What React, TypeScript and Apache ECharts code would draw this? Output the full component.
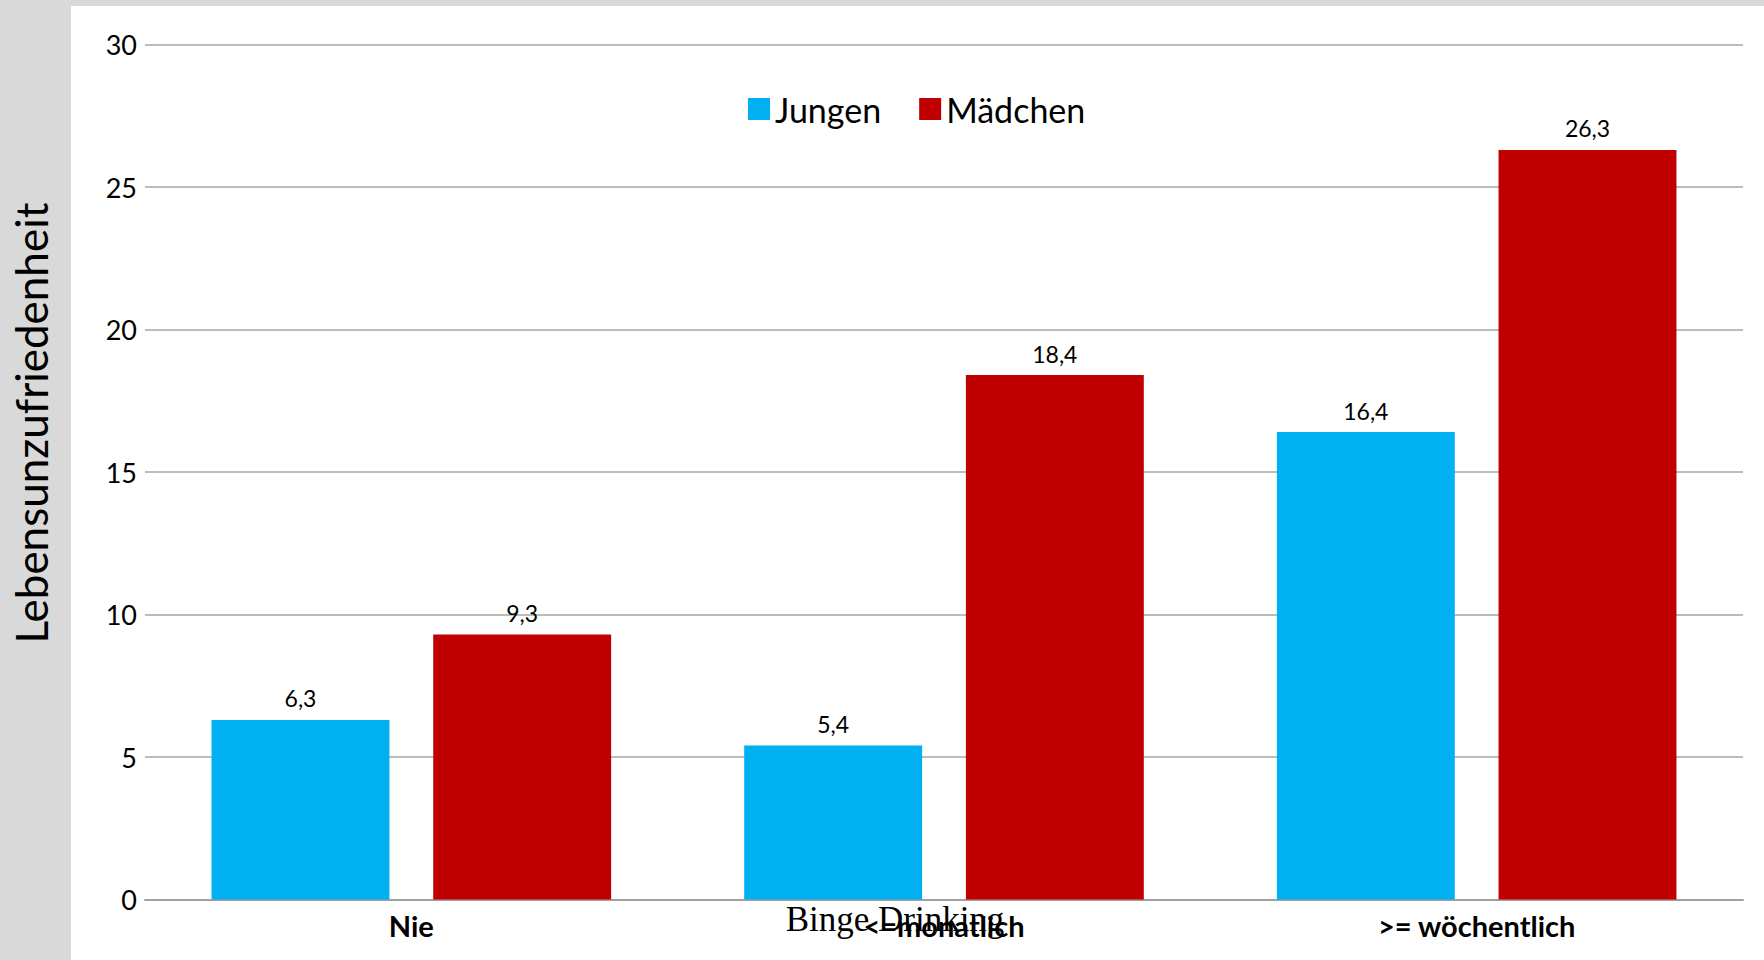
import React, { useEffect, useRef } from "react";
import * as echarts from "echarts";

const categories = ["Nie", "<=monatlich", ">= wöchentlich"];
const jungen = [6.3, 5.4, 16.4];
const maedchen = [9.3, 18.4, 26.3];
const seriesNames = ["Jungen", "Mädchen"];
const yTitle = "Lebensunzufriedenheit";
const xTitle = "Binge Drinking";

const FONT = "Lato, 'Open Sans', sans-serif";

export default function App() {
  const ref = useRef<HTMLDivElement>(null);
  useEffect(() => {
    if (!ref.current) return;
    const chart = echarts.init(ref.current, null, { renderer: "svg" });
    const fmt = (p: any) => String(p.value).replace(".", ",");
    chart.setOption({
      animation: false,
      textStyle: { fontFamily: FONT },
      grid: { left: 145, right: 21, top: 44.5, bottom: 60.5, containLabel: false },
      legend: {
        data: seriesNames,
        left: 743,
        top: 86,
        itemWidth: 22,
        itemHeight: 22,
        itemGap: 38,
        icon: "rect",
        textStyle: { fontSize: 34, lineHeight: 36, color: "#000", fontFamily: FONT, padding: [0, 0, 0, 0] },
      },
      xAxis: {
        type: "category",
        data: categories,
        axisLine: { show: true, lineStyle: { color: "#a0a0a0", width: 2 } },
        axisTick: { show: false },
        axisLabel: { fontSize: 29, fontWeight: "bold", color: "#000", margin: 11, fontFamily: FONT },
      },
      yAxis: {
        type: "value",
        min: 0,
        max: 30,
        interval: 5,
        axisLine: { show: false },
        axisTick: { show: false },
        axisLabel: { fontSize: 27, color: "#000", margin: 8, fontFamily: FONT },
        splitLine: { lineStyle: { color: "#a6a6a6", width: 1.5 } },
      },
      series: [
        {
          name: seriesNames[0],
          type: "bar",
          data: jungen,
          barWidth: "33.4%",
          barGap: "24.6%",
          itemStyle: { color: "#00b0f0" },
          label: { show: true, position: "top", distance: 10, fontSize: 23, color: "#000", formatter: fmt, fontFamily: FONT },
        },
        {
          name: seriesNames[1],
          type: "bar",
          data: maedchen,
          barWidth: "33.4%",
          barGap: "24.6%",
          itemStyle: { color: "#c00000" },
          label: { show: true, position: "top", distance: 10, fontSize: 23, color: "#000", formatter: fmt, fontFamily: FONT },
        },
      ],
      graphic: [
        {
          type: "text",
          x: 31,
          y: 423,
          rotation: Math.PI / 2,
          style: {
            text: yTitle,
            fontSize: 44,
            fontFamily: FONT,
            fill: "#000",
            textAlign: "center",
            textVerticalAlign: "middle",
          },
        },
        {
          type: "text",
          x: 895,
          y: 937,
          z: 100,
          style: {
            text: xTitle,
            fontSize: 35,
            fontFamily: "'Liberation Serif', 'Times New Roman', serif",
            fill: "#000",
            textAlign: "center",
            textVerticalAlign: "bottom",
          },
        },
      ],
    });
    return () => chart.dispose();
  }, []);
  return (
    <div style={{ position: "fixed", left: 0, top: 0, width: 1764, height: 960, background: "#d9d9d9" }}>
      <div style={{ position: "absolute", left: 71, top: 6, width: 1693, height: 954, background: "#fff" }} />
      <div ref={ref} style={{ position: "absolute", left: 0, top: 0, width: 1764, height: 960 }} />
    </div>
  );
}
